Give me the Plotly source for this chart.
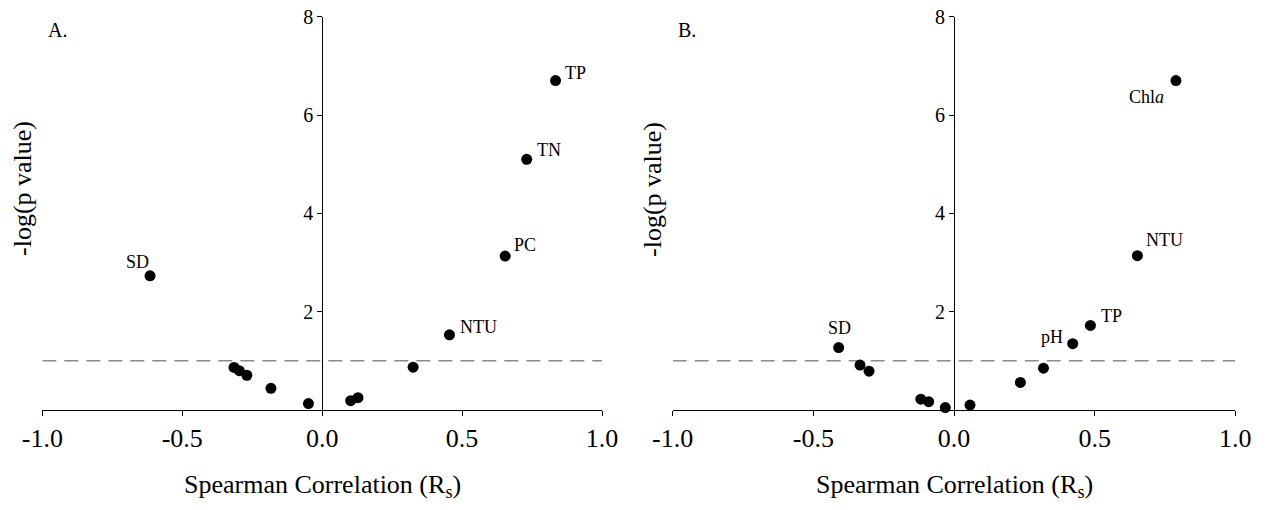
import plotly.graph_objects as go

# ---- Data ----
# Panel A
a_rs = [-0.615, -0.315, -0.296, -0.269, -0.183, -0.049, 0.102, 0.128, 0.325, 0.455, 0.654, 0.731, 0.834]
a_logp = [2.73, 0.867, 0.80, 0.707, 0.44, 0.13, 0.19, 0.25, 0.87, 1.53, 3.13, 5.10, 6.70]
a_names = ["SD", "", "", "", "", "", "", "", "", "NTU", "PC", "TN", "TP"]

# Panel B
b_rs = [-0.41, -0.334, -0.302, -0.118, -0.090, -0.031, 0.057, 0.236, 0.318, 0.422, 0.485, 0.652, 0.789]
b_logp = [1.27, 0.915, 0.79, 0.22, 0.17, 0.05, 0.10, 0.56, 0.85, 1.35, 1.72, 3.14, 6.70]
b_names = ["SD", "", "", "", "", "", "", "", "", "pH", "TP", "NTU", "Chl<i>a</i>"]

threshold_x = [-1.0, 1.0]
threshold_y = [1.0, 1.0]

x_ticks = [-1.0, -0.5, 0.0, 0.5, 1.0]
x_ticktext = ["-1.0", "-0.5", "0.0", "0.5", "1.0"]
y_ticks = [2, 4, 6, 8]
y_ticktext = ["2", "4", "6", "8"]

# label placement: (xanchor, xshift, yshift)
a_label_pos = {"SD": ("center", -13, 14), "NTU": ("left", 9, 8), "PC": ("left", 7, 11),
               "TN": ("left", 8, 9), "TP": ("left", 7, 8)}
b_label_pos = {"SD": ("center", 1, 20), "pH": ("right", -8, 7), "TP": ("left", 9, 9),
               "NTU": ("left", 7, 16), "Chl<i>a</i>": ("right", -10, -16)}

FONT = "Liberation Serif, Times New Roman, serif"
W, H = 1266, 510

fig = go.Figure()

panels = [
    (a_rs, a_logp, a_names, a_label_pos, "x", "y"),
    (b_rs, b_logp, b_names, b_label_pos, "x2", "y2"),
]

for rs, lp, names, pos, xr, yr in panels:
    fig.add_trace(go.Scatter(
        x=threshold_x, y=threshold_y, mode="lines", xaxis=xr, yaxis=yr,
        line=dict(color="#8c8c8c", width=1.5, dash="14px,8px"),
        hoverinfo="skip", showlegend=False, cliponaxis=False))
    fig.add_trace(go.Scatter(
        x=rs, y=lp, mode="markers", xaxis=xr, yaxis=yr,
        marker=dict(color="black", size=11), showlegend=False, cliponaxis=False))
    for xv, yv, nm in zip(rs, lp, names):
        if not nm:
            continue
        xa, xs, ys = pos[nm]
        fig.add_annotation(x=xv, y=yv, xref=xr, yref=yr, text=nm, showarrow=False,
                           xanchor=xa, yanchor="middle", xshift=xs, yshift=ys,
                           font=dict(family=FONT, size=18, color="black"))

xdomA = [42.3 / W, 602.0 / W]
xdomB = [672.7 / W, 1235.3 / W]
ydom = [(H - 410.0) / H, (H - 16.7) / H]

def xaxis_cfg(dom, anchor):
    return dict(domain=dom, range=[-1, 1], anchor=anchor, showline=True, linecolor="black",
                linewidth=1, ticks="outside", ticklen=5, tickwidth=1, tickcolor="black",
                tickvals=x_ticks, ticktext=x_ticktext, showgrid=False, zeroline=False,
                automargin=False,
                tickfont=dict(family=FONT, size=26, color="black"), fixedrange=True)

def yaxis_cfg(dom, posx):
    return dict(domain=dom, range=[0, 8], anchor="free", position=posx, showline=True,
                linecolor="black", linewidth=1, ticks="outside", ticklen=5, tickwidth=1,
                tickcolor="black", tickvals=y_ticks, ticktext=y_ticktext, showgrid=False,
                zeroline=False, automargin=False,
                tickfont=dict(family=FONT, size=20, color="black"),
                fixedrange=True)

fig.update_layout(
    width=W, height=H,
    margin=dict(l=0, r=0, t=0, b=0, autoexpand=False),
    paper_bgcolor="white", plot_bgcolor="white",
    xaxis=xaxis_cfg(xdomA, "y"),
    yaxis=yaxis_cfg(ydom, (xdomA[0] + xdomA[1]) / 2),
    xaxis2=xaxis_cfg(xdomB, "y2"),
    yaxis2=yaxis_cfg(ydom, (xdomB[0] + xdomB[1]) / 2),
)

# panel letters, axis titles
for letter, lx, cx, ytx in [("A.", 57, (xdomA[0] + xdomA[1]) / 2, 22),
                            ("B.", 687, (xdomB[0] + xdomB[1]) / 2, 652)]:
    fig.add_annotation(x=lx / W, y=(H - 30) / H, xref="paper", yref="paper", text=letter,
                       showarrow=False, xanchor="center", yanchor="middle",
                       font=dict(family=FONT, size=20, color="black"))
    fig.add_annotation(x=cx, y=(H - 486) / H, xref="paper", yref="paper",
                       text="Spearman Correlation (R<sub>s</sub>)", showarrow=False,
                       xanchor="center", yanchor="middle",
                       font=dict(family=FONT, size=26, color="black"))
    fig.add_annotation(x=ytx / W, y=(H - 189) / H, xref="paper", yref="paper",
                       text="-log(p value)", showarrow=False, textangle=-90,
                       xanchor="center", yanchor="middle",
                       font=dict(family=FONT, size=26, color="black"))

fig.write_html("out.html")
